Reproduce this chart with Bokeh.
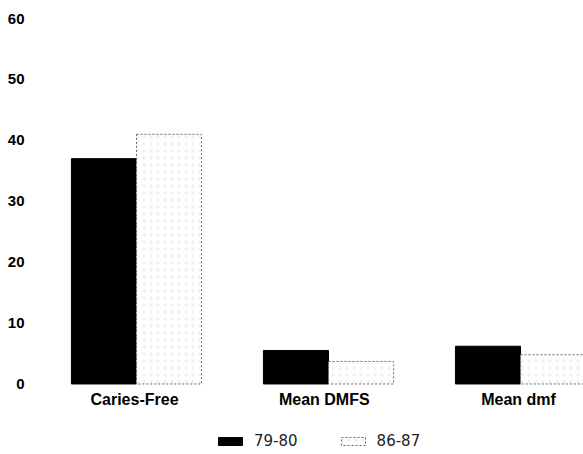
import numpy as np
from bokeh.plotting import figure
from bokeh.models import ColumnDataSource, Range1d, FixedTicker, Legend, LegendItem
from bokeh.transform import dodge
from bokeh.core.properties import value
from bokeh.embed import file_html
from bokeh.resources import INLINE

# ---- data ----
categories = ["Caries-Free", "Mean  DMFS", "Mean dmf"]
series_names = ["79-80", "86-87"]
v_79_80 = [37.0, 5.5, 6.2]
v_86_87 = [41.0, 3.7, 4.8]
y_ticks = [0, 10, 20, 30, 40, 50, 60]

cat_x = np.arange(1, len(categories) + 1)
src = ColumnDataSource(dict(x=cat_x, a=v_79_80, b=v_86_87, cat=categories,
                            zero=[0] * len(categories)))

bw = 0.339

p = figure(width=583, height=454, output_backend="svg", toolbar_location=None,
           x_range=Range1d(0.5, 3.328), y_range=Range1d(-11.58, 61.0),
           min_border_left=40, min_border_right=0, min_border_top=12,
           min_border_bottom=0)
p.outline_line_color = None
p.grid.visible = False
p.xaxis.visible = False
p.background_fill_color = "white"
p.border_fill_color = "white"

r1 = p.vbar(x=dodge("x", -bw / 2, range=p.x_range), top="a", bottom=0, width=bw,
            source=src, fill_color="black", line_color="black")
r2 = p.vbar(x=dodge("x", bw / 2, range=p.x_range), top="b", bottom=0, width=bw,
            source=src, fill_color="white", line_color="#666666", line_dash="2 2",
            hatch_pattern="dot", hatch_color="#f0f0f0", hatch_scale=7, hatch_weight=1)

p.text(x="x", y="zero", text="cat", source=src, text_align="center",
       text_baseline="top", y_offset=7, x_offset=-2, text_font=value("Liberation Sans"),
       text_font_style="bold", text_font_size="16px", text_color="black")

ya = p.yaxis[0]
ya.ticker = FixedTicker(ticks=y_ticks)
ya.axis_line_color = None
ya.major_tick_line_color = None
ya.minor_tick_line_color = None
ya.major_label_standoff = 10
ya.major_label_text_font = "Liberation Sans"
ya.major_label_text_font_style = "bold"
ya.major_label_text_font_size = "15px"
ya.major_label_text_color = "black"

legend = Legend(items=[LegendItem(label=series_names[0], renderers=[r1]),
                       LegendItem(label=series_names[1], renderers=[r2])],
                orientation="horizontal", location=(175, 4))
legend.glyph_width = 30
legend.glyph_height = 10
legend.label_standoff = 9
legend.spacing = 40
legend.padding = 0
legend.margin = 0
legend.border_line_color = None
legend.background_fill_alpha = 0
legend.label_text_font = "DejaVu Sans"
legend.label_text_font_size = "15px"
legend.label_text_color = "#222222"
legend.label_height = 14
p.add_layout(legend, "center")

open("out.html", "w").write(file_html(p, INLINE))
